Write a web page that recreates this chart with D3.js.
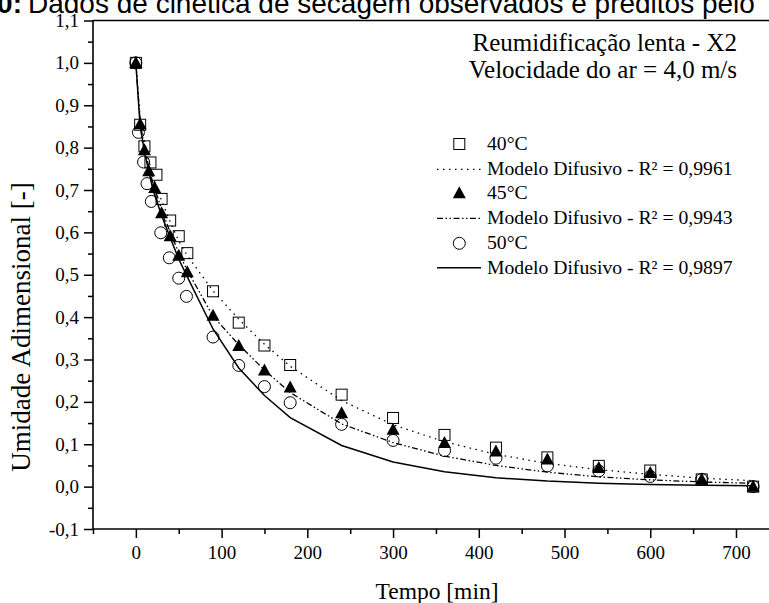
<!DOCTYPE html>
<html><head><meta charset="utf-8">
<script src="https://cdn.jsdelivr.net/npm/d3@7"></script>
<style>html,body{margin:0;padding:0;background:#fff;overflow:hidden}svg{display:block}</style>
</head><body>
<script>
// ---- data ----
const time40 = [0, 5, 10, 17, 24, 30, 40, 50, 60, 90, 120, 150, 180, 240, 300, 360, 420, 480, 540, 600, 660, 720];
const obs40  = [1.0, 0.854, 0.803, 0.765, 0.736, 0.679, 0.628, 0.591, 0.551, 0.461, 0.387, 0.333, 0.287, 0.217, 0.162, 0.122, 0.092, 0.069, 0.049, 0.038, 0.017, 0.0];
const time45 = [0, 5, 10, 15, 22, 30, 40, 50, 60, 90, 120, 150, 180, 240, 300, 360, 420, 480, 540, 600, 660, 720];
const obs45  = [1.0, 0.855, 0.794, 0.744, 0.705, 0.645, 0.591, 0.545, 0.506, 0.403, 0.332, 0.274, 0.234, 0.173, 0.134, 0.103, 0.083, 0.064, 0.044, 0.032, 0.017, 0.0];
const time50 = [0, 3, 9, 13, 18, 29, 39, 50, 59, 90, 120, 150, 180, 240, 300, 360, 420, 480, 540, 600, 660, 720];
const obs50  = [1.0, 0.836, 0.766, 0.715, 0.673, 0.599, 0.540, 0.492, 0.449, 0.353, 0.286, 0.236, 0.198, 0.147, 0.109, 0.085, 0.067, 0.049, 0.037, 0.024, 0.017, 0.0];
const modelTime = [0, 5, 10, 15, 20, 30, 40, 50, 60, 90, 120, 150, 180, 240, 300, 360, 420, 480, 540, 600, 660, 720];
const model40 = [1.0, 0.87, 0.815, 0.77, 0.73, 0.675, 0.625, 0.58, 0.545, 0.462, 0.395, 0.336, 0.284, 0.203, 0.146, 0.106, 0.076, 0.055, 0.040, 0.029, 0.020, 0.014];
const model45 = [1.0, 0.86, 0.80, 0.755, 0.715, 0.655, 0.60, 0.552, 0.51, 0.402, 0.335, 0.275, 0.222, 0.148, 0.104, 0.072, 0.05, 0.034, 0.023, 0.016, 0.011, 0.008];
const model50 = [1.0, 0.85, 0.79, 0.745, 0.70, 0.64, 0.588, 0.537, 0.495, 0.372, 0.28, 0.215, 0.163, 0.097, 0.058, 0.035, 0.021, 0.013, 0.008, 0.005, 0.003, 0.002];
const xTicks = [0, 100, 200, 300, 400, 500, 600, 700];
const xMinor = [-50, 50, 150, 250, 350, 450, 550, 650, 750];
const yTicks = [-0.1, 0.0, 0.1, 0.2, 0.3, 0.4, 0.5, 0.6, 0.7, 0.8, 0.9, 1.0, 1.1];
const yMinor = [-0.05, 0.05, 0.15, 0.25, 0.35, 0.45, 0.55, 0.65, 0.75, 0.85, 0.95, 1.05];
const legendLabels = ["40°C", "Modelo Difusivo - R² = 0,9961", "45°C", "Modelo Difusivo - R² = 0,9943", "50°C", "Modelo Difusivo - R² = 0,9897"];
const infoLines = ["Reumidificação lenta - X2", "Velocidade do ar = 4,0 m/s"];

const W = 769, H = 603;
const serif = "'Liberation Serif','Times New Roman',serif";
const svg = d3.select("body").append("svg").attr("width", W).attr("height", H);

const pL = 93, pT = 20.5, pB = 529, pR = 790;
const x = d3.scaleLinear().domain([-50, 763]).range([pL, pR]);
const y = d3.scaleLinear().domain([-0.1, 1.1]).range([pB, pT]);
const fmt = v => d3.format(".1f")(v).replace("−", "-").replace(".", ",");

// caption (cut at top, as in the reference)
svg.append("text").attr("x", 28).attr("y", 13).attr("font-family", "'Liberation Sans',Arial,sans-serif").attr("font-size", 28)
  .text("Dados de cinética de secagem observados e preditos pelo");
svg.append("text").attr("x", 22).attr("y", 13).attr("text-anchor", "end").attr("font-family", "'Liberation Sans',Arial,sans-serif")
  .attr("font-size", 28).attr("font-weight", "bold").text("Figura 10:");

// axes
const gx = svg.append("g").attr("transform", `translate(0,${pB})`);
gx.call(d3.axisBottom(x).tickValues(xTicks).tickSize(9).tickPadding(8).tickFormat(d3.format("d")));
const gxm = svg.append("g").attr("transform", `translate(0,${pB})`);
gxm.call(d3.axisBottom(x).tickValues(xMinor).tickSize(5).tickFormat(""));
const gy = svg.append("g").attr("transform", `translate(${pL},0)`);
gy.call(d3.axisLeft(y).tickValues(yTicks).tickSize(9).tickPadding(5).tickFormat(fmt));
const gym = svg.append("g").attr("transform", `translate(${pL},0)`);
gym.call(d3.axisLeft(y).tickValues(yMinor).tickSize(5).tickFormat(""));
[gx, gxm, gy, gym].forEach(g => {
  g.selectAll(".domain").remove();
  g.selectAll("line").attr("stroke", "#000").attr("stroke-width", 1.5);
  g.selectAll("text").attr("font-family", serif).attr("font-size", 19).attr("fill", "#000");
});
// frame lines
svg.append("line").attr("x1", pL).attr("x2", W + 5).attr("y1", pB).attr("y2", pB).attr("stroke", "#000").attr("stroke-width", 1.6);
svg.append("line").attr("x1", pL).attr("x2", pL).attr("y1", pT).attr("y2", pB).attr("stroke", "#000").attr("stroke-width", 1.6);
svg.append("line").attr("x1", pL).attr("x2", W + 5).attr("y1", pT).attr("y2", pT).attr("stroke", "#000").attr("stroke-width", 1.6);

// axis titles
svg.append("text").attr("x", 437).attr("y", 599).attr("text-anchor", "middle").attr("font-family", serif).attr("font-size", 23.5).text("Tempo [min]");
svg.append("text").attr("transform", `translate(30,327) rotate(-90)`).attr("text-anchor", "middle").attr("font-family", serif).attr("font-size", 27).text("Umidade Adimensional [-]");

// model lines
const line = (tt, vv) => d3.line().x((d, i) => x(tt[i])).y(d => y(d))(vv);
const styles = [
  {dash: "1.5,4.5", w: 1.3},
  {dash: "6,2.5,1.5,2.5,1.5,2.5", w: 1.3},
  {dash: null, w: 1.5}
];
[model40, model45, model50].forEach((m, k) => {
  svg.append("path").attr("d", line(modelTime, m)).attr("fill", "none").attr("stroke", "#000")
    .attr("stroke-width", styles[k].w).attr("stroke-dasharray", styles[k].dash);
});

// markers
function marker(g, type, cx, cy) {
  if (type === 0) g.append("rect").attr("x", cx - 5.5).attr("y", cy - 5.5).attr("width", 11).attr("height", 11).attr("fill", "none").attr("stroke", "#000").attr("stroke-width", 1);
  else if (type === 1) g.append("path").attr("d", `M${cx},${cy - 7}L${cx + 6.5},${cy + 5}L${cx - 6.5},${cy + 5}Z`).attr("fill", "#000");
  else g.append("circle").attr("cx", cx).attr("cy", cy).attr("r", 6).attr("fill", "none").attr("stroke", "#000").attr("stroke-width", 1);
}
const gm = svg.append("g");
obs40.forEach((v, i) => marker(gm, 0, x(time40[i]), y(v)));
obs45.forEach((v, i) => marker(gm, 1, x(time45[i]), y(v)));
obs50.forEach((v, i) => marker(gm, 2, x(time50[i]), y(v)));

// info text
svg.append("text").attr("x", 737).attr("y", 51).attr("text-anchor", "end").attr("font-family", serif).attr("font-size", 25).text(infoLines[0]);
svg.append("text").attr("x", 737).attr("y", 78).attr("text-anchor", "end").attr("font-family", serif).attr("font-size", 25).text(infoLines[1]);

// legend
const lg = svg.append("g");
const rowY = [144, 169.3, 193.3, 218.3, 243.3, 267.7];
legendLabels.forEach((t, i) => {
  const ry = rowY[i];
  if (i % 2 === 0) marker(lg, i / 2, 459.3, ry);
  else {
    const s = styles[(i - 1) / 2];
    lg.append("line").attr("x1", 437).attr("x2", 481).attr("y1", ry).attr("y2", ry).attr("stroke", "#000")
      .attr("stroke-width", s.w).attr("stroke-dasharray", s.dash);
  }
  lg.append("text").attr("x", 487).attr("y", ry + 6).attr("font-family", serif).attr("font-size", 19.7).text(t);
});
</script>
</body></html>
